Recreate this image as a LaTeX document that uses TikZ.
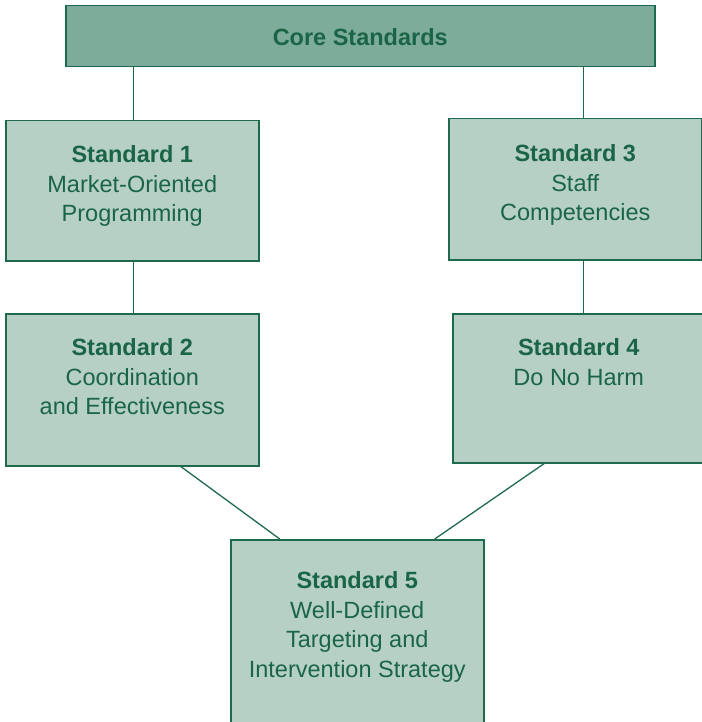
\documentclass[tikz,border=0pt]{standalone}
\usepackage{fontspec}
\setmainfont{Liberation Sans}
\usetikzlibrary{positioning}

\definecolor{stdline}{HTML}{1E6A4C}
\definecolor{stdtextcol}{HTML}{1B6547}
\definecolor{stdfill}{HTML}{B6D0C6}
\definecolor{corefill}{HTML}{7DAC9B}

\begin{document}
\begin{tikzpicture}[
		x=1pt, y=-1pt,
		line width=1.3pt,
		every box/.style={draw=stdline, line width=1.5pt, anchor=north west, inner sep=0pt},
		stdbox/.style={every box, fill=stdfill},
		corebox/.style={every box, fill=corefill},
		stdtext/.style={text=stdtextcol, font=\fontsize{23.5}{29.5}\selectfont, align=center, anchor=north, inner sep=0pt}
	]

		\useasboundingbox (0, 0) rectangle (701, 722);

		% Boxes
		\node[corebox, minimum width=589pt, minimum height=61pt] (core) at (65, 5) {};
		\node[stdbox, minimum width=253pt, minimum height=140pt] (s1) at (5, 120) {};
		\node[stdbox, minimum width=253pt, minimum height=152pt] (s2) at (5, 313) {};
		\node[stdbox, minimum width=253pt, minimum height=141pt] (s3) at (448, 118) {};
		\node[stdbox, minimum width=252pt, minimum height=149pt] (s4) at (452, 313) {};
		\node[stdbox, minimum width=253pt, minimum height=190pt] (s5) at (230, 539) {};

		% Texts
		\node[stdtext, anchor=center] (coret) at ([yshift=-1pt]core.center) {\textbf{Core Standards}};
		\node[stdtext, below=25pt of s1.north] (s1t) {\textbf{Standard 1}\\Market-Oriented\\Programming};
		\node[stdtext, below=25pt of s2.north] (s2t) {\textbf{Standard 2}\\Coordination\\and Effectiveness};
		\node[stdtext, below=26pt of s3.north] (s3t) {\textbf{Standard 3}\\Staff\\Competencies};
		\node[stdtext, below=25pt of s4.north] (s4t) {\textbf{Standard 4}\\Do No Harm};
		\node[stdtext, below=32pt of s5.north] (s5t) {\textbf{Standard 5}\\Well-Defined\\Targeting and\\Intervention Strategy};

		% Connectors
		\draw[stdline] ([xshift=1.5pt]s1.north |- core.south) -- ([xshift=1.5pt]s1.north);
		\draw[stdline] ([xshift=1.5pt]s1.south) -- ([xshift=1.5pt]s2.north);
		\draw[stdline] ([xshift=8pt]s3.north |- core.south) -- ([xshift=8pt]s3.north);
		\draw[stdline] ([xshift=8pt]s3.south) -- ([xshift=8pt]s3.south |- s4.north);
		\draw[stdline] ([xshift=48.5pt]s2.south) -- ([xshift=-77.5pt]s5.north);
		\draw[stdline] ([xshift=-34.5pt]s4.south) -- ([xshift=77.5pt]s5.north);
	\end{tikzpicture}
\end{document}
